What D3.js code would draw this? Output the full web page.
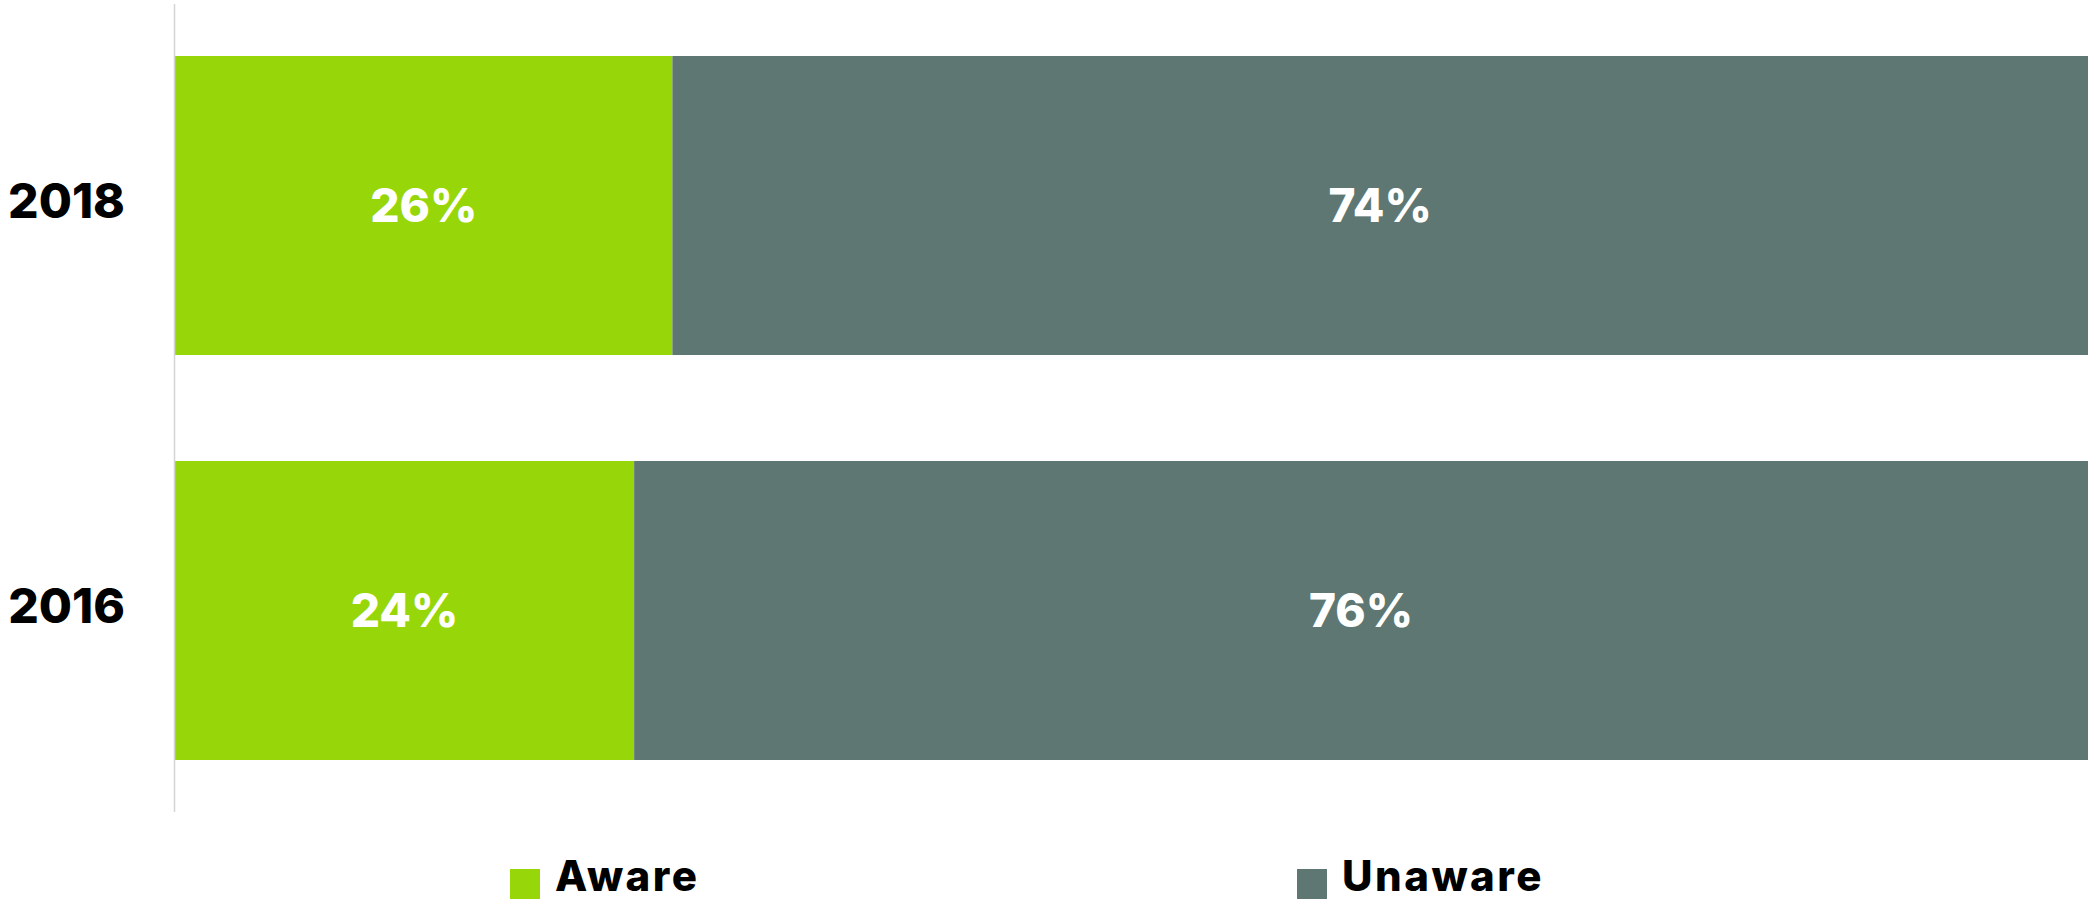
<!DOCTYPE html>
<html><head><meta charset="utf-8">
<script src="https://cdn.jsdelivr.net/npm/d3@7"></script>
<style>html,body{margin:0;padding:0;background:#fff;overflow:hidden}</style>
</head><body>
<svg id="chart" width="2088" height="900"></svg>
<script>
const categories = ["2018", "2016"];
const series = ["Aware", "Unaware"];
const aware = [26, 24];
const unaware = [74, 76];
const colors = ["#97d70a", "#5e7772"];

const svg = d3.select("#chart");
const font = "Inter, 'Open Sans', sans-serif";
const x = d3.scaleLinear().domain([0, 100]).range([175, 2088]);
const y = d3.scaleBand().domain(categories).range([3, 813]).paddingInner(0.2617).paddingOuter(0.1309);

const rows = categories.map((c, i) => ({cat: c, vals: [aware[i], unaware[i]]}));
const stacked = [];
rows.forEach(r => {
  let acc = 0;
  r.vals.forEach((v, j) => { stacked.push({cat: r.cat, s: j, x0: acc, x1: acc + v, v}); acc += v; });
});

svg.selectAll("rect.bar").data(stacked).enter().append("rect")
  .attr("x", d => x(d.x0)).attr("width", d => x(d.x1) - x(d.x0))
  .attr("y", d => y(d.cat)).attr("height", y.bandwidth())
  .attr("fill", d => colors[d.s]);

svg.selectAll("text.val").data(stacked).enter().append("text")
  .attr("x", d => (x(d.x0) + x(d.x1)) / 2)
  .attr("y", d => y(d.cat) + y.bandwidth() / 2)
  .attr("dy", "0.36em").attr("text-anchor", "middle")
  .attr("fill", "#fff").attr("font-family", font).attr("font-weight", 800)
  .attr("font-size", 46).text(d => d.v + "%");

// axis line
svg.append("line").attr("x1", 174.5).attr("x2", 174.5).attr("y1", 4).attr("y2", 812)
  .attr("stroke", "#d4d4d4").attr("stroke-width", 1.5);

svg.selectAll("text.cat").data(categories).enter().append("text")
  .attr("x", 125).attr("y", d => y(d) + y.bandwidth() / 2 - 5)
  .attr("dy", "0.36em").attr("text-anchor", "end")
  .attr("font-family", font).attr("font-weight", 800).attr("font-size", 48)
  .attr("fill", "#000").text(d => d);

// legend
const legX = [510, 1297];
series.forEach((s, i) => {
  svg.append("rect").attr("x", legX[i]).attr("y", 869).attr("width", 30).attr("height", 30).attr("fill", colors[i]);
  svg.append("text").attr("x", legX[i] + 45).attr("y", 891)
    .attr("font-family", font).attr("font-weight", 800).attr("font-size", 42)
    .attr("letter-spacing", 2.5)
    .attr("fill", "#000").text(s);
});
</script>
</body></html>
